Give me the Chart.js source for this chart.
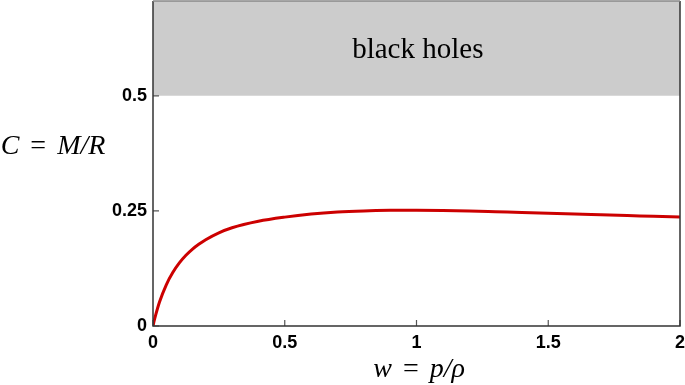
<!DOCTYPE html>
<html>
<head>
<meta charset="utf-8">
<script src="https://cdn.jsdelivr.net/npm/chart.js@4.4.0/dist/chart.umd.min.js"></script>
<style>
  html, body { margin: 0; padding: 0; background: #fff; }
  #wrap { width: 685px; height: 385px; }
</style>
</head>
<body>
<div id="wrap"><canvas id="compactness"></canvas></div>
<script>
// equation of state parameter w = p/rho
var wValues = [0, 0.005, 0.01, 0.025, 0.05, 0.075, 0.1, 0.125, 0.15, 0.175, 0.2, 0.25, 0.3, 0.4, 0.5, 0.6, 0.7, 0.8, 0.9, 1.0, 1.1, 1.2, 1.3, 1.4, 1.5, 1.6, 1.7, 1.8, 1.9, 2.0];
// compactness C = M/R
var cValues = [0, 0.0125, 0.0235, 0.0525, 0.089, 0.116, 0.137, 0.1535, 0.167, 0.178, 0.1875, 0.2025, 0.2135, 0.2275, 0.2365, 0.2432, 0.2476, 0.2500, 0.2512, 0.2515, 0.251, 0.2500, 0.2483, 0.2465, 0.2449, 0.2433, 0.2416, 0.2399, 0.2383, 0.2366];
var xTicks = [0, 0.5, 1, 1.5, 2];
var yTicks = [0, 0.25, 0.5];
var bhLimit = 0.5;
var yMax = 0.706;

var curve = [];
for (var i = 0; i < wValues.length; i++) {
    curve.push({x: wValues[i], y: cValues[i]});
}

// draws a math-like label: pieces of [text, italic, gap after], centered on cx
function mathText(ctx, pieces, cx, baseline, size) {
    var serif = '"Liberation Serif", "DejaVu Serif", serif';
    var total = 0;
    pieces.forEach(function(p) {
        ctx.font = (p[1] ? 'italic ' : '') + size + 'px ' + serif;
        p.w = ctx.measureText(p[0]).width + (p[2] || 0);
        total += p.w;
    });
    var x = cx - total / 2;
    ctx.textAlign = 'left';
    ctx.textBaseline = 'alphabetic';
    pieces.forEach(function(p) {
        ctx.font = (p[1] ? 'italic ' : '') + size + 'px ' + serif;
        ctx.fillText(p[0], x, baseline);
        x += p.w;
    });
}

var extras = {
    id: 'extras',
    afterDatasetsDraw: function(chart) {
        var ctx = chart.ctx;
        var a = chart.chartArea;
        var xs = chart.scales.x, ys = chart.scales.y;
        ctx.save();
        // band label
        ctx.fillStyle = '#000';
        ctx.font = '29px "Liberation Serif", "DejaVu Serif", serif';
        ctx.textAlign = 'center';
        ctx.textBaseline = 'alphabetic';
        ctx.fillText('black holes', xs.getPixelForValue(1.005), 58);
        // inward ticks
        ctx.strokeStyle = '#555';
        ctx.lineWidth = 1.2;
        ctx.beginPath();
        xTicks.forEach(function(t) {
            var px = xs.getPixelForValue(t);
            ctx.moveTo(px, a.bottom);
            ctx.lineTo(px, a.bottom - 6);
        });
        yTicks.forEach(function(t) {
            var py = ys.getPixelForValue(t);
            ctx.moveTo(a.left, py);
            ctx.lineTo(a.left + 6, py);
        });
        ctx.stroke();
        // frame
        ctx.strokeStyle = '#333';
        ctx.lineWidth = 1.5;
        ctx.beginPath();
        ctx.moveTo(a.left, a.top);
        ctx.lineTo(a.left, a.bottom);
        ctx.lineTo(a.right, a.bottom);
        ctx.lineTo(a.right, a.top);
        ctx.stroke();
        ctx.strokeStyle = '#888';
        ctx.beginPath();
        ctx.moveTo(a.left, a.top);
        ctx.lineTo(a.right, a.top);
        ctx.stroke();
        // axis titles
        ctx.fillStyle = '#000';
        mathText(ctx, [['C', true, 4], [' = ', false, 4], ['M/R', true]], 53, 154, 28);
        mathText(ctx, [['w', true, 4], [' = ', false, 4], ['p/\u03c1', true]], xs.getPixelForValue(1.01), 377, 28);
        ctx.restore();
    }
};

var ctx = document.getElementById('compactness');

var myChart = new Chart(ctx, {
    type: 'scatter',
    data: {
        datasets: [{
            data: curve,
            showLine: true,
            borderColor: '#cc0000',
            borderWidth: 3,
            pointRadius: 0,
            cubicInterpolationMode: 'monotone',
            fill: false
        }, {
            data: [{x: 0, y: yMax}, {x: 2, y: yMax}],
            showLine: true,
            borderWidth: 0,
            borderColor: 'rgba(0,0,0,0)',
            backgroundColor: '#cccccc',
            pointRadius: 0,
            fill: {value: bhLimit}
        }]
    },
    plugins: [extras],
    options: {
        responsive: true,
        maintainAspectRatio: false,
        animation: false,
        layout: {
            padding: {top: 1, right: 5, left: 0, bottom: 0}
        },
        scales: {
            x: {
                type: 'linear',
                min: 0,
                max: 2,
                afterBuildTicks: function(axis) {
                    axis.ticks = xTicks.map(function(v) { return {value: v}; });
                },
                afterFit: function(axis) {
                    axis.height = 59;
                    axis.paddingLeft = 0;
                    axis.paddingRight = 0;
                },
                grid: {display: false, drawTicks: false},
                border: {display: false},
                ticks: {
                    padding: 6,
                    color: '#000',
                    font: {family: '"Liberation Sans", Arial, sans-serif', size: 18, weight: 'bold'},
                    callback: function(v) { return String(v); }
                }
            },
            y: {
                type: 'linear',
                min: 0,
                max: yMax,
                afterBuildTicks: function(axis) {
                    axis.ticks = yTicks.map(function(v) { return {value: v}; });
                },
                afterFit: function(axis) {
                    axis.width = 153;
                    axis.paddingTop = 0;
                    axis.paddingBottom = 0;
                },
                grid: {display: false, drawTicks: false},
                border: {display: false},
                ticks: {
                    padding: 6,
                    color: '#000',
                    font: {family: '"Liberation Sans", Arial, sans-serif', size: 18, weight: 'bold'},
                    callback: function(v) { return String(v); }
                }
            }
        },
        plugins: {
            legend: {display: false},
            tooltip: {enabled: false}
        }
    }
});
</script>
</body>
</html>
